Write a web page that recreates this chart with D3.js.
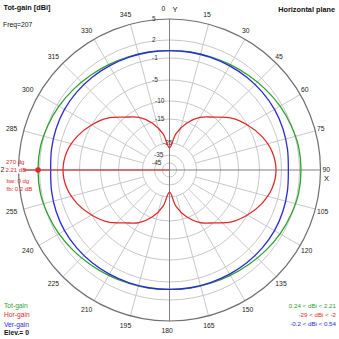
<!DOCTYPE html>
<html><head><meta charset="utf-8">
<script src="https://cdn.jsdelivr.net/npm/d3@7"></script>
<style>body{margin:0;background:#fff}svg{display:block}text{font-family:"Liberation Sans",Arial,sans-serif}</style>
</head><body><svg id="c" width="339" height="339"></svg>
<script>
const angles   = [0,10,20,30,40,50,60,70,80,90,100,110,120,130,140,150,160,170,180,190,200,210,220,230,240,250,260,270,280,290,300,310,320,330,340,350];
const totGain  = [0.24,0.33,0.42,0.61,0.88,1.23,1.61,1.92,2.17,2.21,2.17,1.92,1.61,1.23,0.88,0.61,0.42,0.33,0.24,0.33,0.42,0.61,0.88,1.23,1.61,1.92,2.17,2.21,2.17,1.92,1.61,1.23,0.88,0.61,0.42,0.33];
const horGain  = [-29,-21,-15.5,-12.3,-10,-7.2,-5,-3.5,-2.4,-2,-2.4,-3.5,-5,-7.2,-10,-12.3,-15.5,-21,-29,-21,-15.5,-12.3,-10,-7.2,-5,-3.5,-2.4,-2,-2.4,-3.5,-5,-7.2,-10,-12.3,-15.5,-21];
const verGain  = [0.24,0.26,0.3,0.38,0.46,0.52,0.54,0.45,0.3,0.14,0.3,0.45,0.54,0.52,0.46,0.38,0.3,0.26,0.24,0.26,0.3,0.38,0.46,0.52,0.54,0.45,0.3,0.14,0.3,0.45,0.54,0.52,0.46,0.38,0.3,0.26];
const ringValues = [-45,-35,-25,-15,-10,-5,-1,2,5];
const ringLabels = ["-45","-35","-25","-15","-10","-5","-1","2","5"];
const degTicks = [0,15,30,45,60,75,90,105,120,135,150,165,180,195,210,225,240,255,285,300,315,330,345];
const legendNames = ["Tot-gain","Hor-gain","Ver-gain"];
const legendRanges = ["0.24 < dBi < 2.21","-29 < dBi < -2","-0.2 < dBi < 0.54"];
const marker = {angle:270, gain:2.21, lines:["270 dg","2.21 dB","bw: 0 dg","fb: 0.2 dB"]};

const colors = ["#2ea02e","#e02a2a","#2a2ad8"];
const cx = 169.5, cy = 170, R = 151;
const svg = d3.select("#c");
const r = d3.scaleLinear().domain(ringValues).range([7,15,27,51,69,90,112,130,R]).clamp(true);
const g = svg.append("g").attr("transform",`translate(${cx},${cy})`);
const rad = a => a*Math.PI/180;

// rings
g.selectAll("circle.ring").data(ringValues.slice(0,-1)).join("circle")
  .attr("r",d=>r(d)).attr("fill","none").attr("stroke","#c8c8c8").attr("stroke-width",1);
// spokes
g.selectAll("line.sp").data(degTicks.filter(d=>d%90!==0)).join("line")
  .attr("x1",d=>r(-25)*Math.sin(rad(d))).attr("y1",d=>-r(-25)*Math.cos(rad(d)))
  .attr("x2",d=>R*Math.sin(rad(d))).attr("y2",d=>-R*Math.cos(rad(d)))
  .attr("stroke","#c8c8c8").attr("stroke-width",1);
// axes
g.append("line").attr("x1",0).attr("x2",0).attr("y1",-R).attr("y2",R).attr("stroke","#808080");
g.append("line").attr("x1",-R).attr("x2",R).attr("y1",0).attr("y2",0).attr("stroke","#808080");
g.append("circle").attr("r",R).attr("fill","none").attr("stroke","#707070").attr("stroke-width",1.2);

// ring labels (left edge placement)
const ringLeft = d => (d >= -5 ? -17.5 : d >= -15 ? -14.5 : d === -25 ? -6.5 : d === -35 ? -15.5 : -17.5);
g.selectAll("text.rl").data(ringValues).join("text")
  .attr("x",d=>ringLeft(d)).attr("y",d=>-r(d)).attr("dy","0.35em")
  .attr("font-size",6.5).attr("fill","#333").text((d,i)=>ringLabels[i]);

// degree labels
g.selectAll("text.dl").data(degTicks).join("text")
  .attr("x",d=>161*Math.sin(rad(d))-8).attr("y",d=>-161*Math.cos(rad(d)))
  .attr("dy","0.35em").attr("font-size",6.8).attr("fill","#222").text(d=>d);
// visible remainder of the 270 label (rest is covered by the marker box)
svg.append("text").attr("x",0.5).attr("y",170).attr("dy","0.35em").attr("font-size",6.8).attr("fill","#222").text("2");
svg.append("text").attr("x",175).attr("y",9).attr("dy","0.35em").attr("text-anchor","middle").attr("font-size",7.5).attr("fill","#111").text("Y");
svg.append("text").attr("x",326.5).attr("y",178).attr("dy","0.35em").attr("text-anchor","middle").attr("font-size",7.5).attr("fill","#111").text("X");

// curves
const mk = vals => angles.map((a,i)=>({a, v: vals[i]}));
const line = d3.lineRadial().angle(d=>rad(d.a)).radius(d=>r(d.v)).curve(d3.curveCatmullRomClosed.alpha(0.5));
[totGain,horGain,verGain].forEach((vals,i)=>{
  g.append("path").datum(mk(vals)).attr("d",line).attr("fill","none").attr("stroke",colors[i]).attr("stroke-width",1.3);
});

// marker
g.append("line").attr("x1",0).attr("y1",0).attr("x2",-R).attr("y2",0).attr("stroke","#e02a2a").attr("stroke-width",1);
g.append("circle").attr("cx",r(marker.gain)*Math.sin(rad(marker.angle))).attr("cy",-r(marker.gain)*Math.cos(rad(marker.angle)))
  .attr("r",2.8).attr("fill","#e02a2a");
svg.append("rect").attr("x",5).attr("y",166.5).attr("width",18.5).attr("height",7).attr("fill","#fff");
svg.selectAll("text.mk").data(marker.lines).join("text")
  .attr("x",(d,i)=>[6,5.5,6.5,6.5][i]).attr("y",(d,i)=>[161.5,170,180.5,188.5][i]).attr("dy","0.35em")
  .attr("font-size",6).attr("fill","#e02a2a").text(d=>d);

// titles
svg.append("text").attr("x",3.5).attr("y",7).attr("dy","0.35em").attr("font-size",7.3).attr("font-weight","bold").attr("fill","#111").text("Tot-gain [dBi]");
svg.append("text").attr("x",3).attr("y",25).attr("dy","0.35em").attr("font-size",6.8).attr("fill","#111").text("Freq=207");
svg.append("text").attr("x",335).attr("y",9).attr("dy","0.35em").attr("text-anchor","end").attr("font-size",7.3).attr("font-weight","bold").attr("fill","#111").text("Horizontal plane");

// legend
svg.selectAll("text.ln").data(legendNames).join("text")
  .attr("x",4).attr("y",(d,i)=>305.7+i*9.3).attr("dy","0.35em").attr("font-size",6.7).attr("fill",(d,i)=>colors[i]).text(d=>d);
svg.append("text").attr("x",4).attr("y",333).attr("dy","0.35em").attr("font-size",6.8).attr("font-weight","bold").attr("fill","#111").text("Elev.= 0");
svg.selectAll("text.lr").data(legendRanges).join("text")
  .attr("x",336).attr("y",(d,i)=>305.7+i*9.3).attr("dy","0.35em").attr("text-anchor","end").attr("font-size",6.2).attr("fill",(d,i)=>colors[i]).text(d=>d);
</script></body></html>
